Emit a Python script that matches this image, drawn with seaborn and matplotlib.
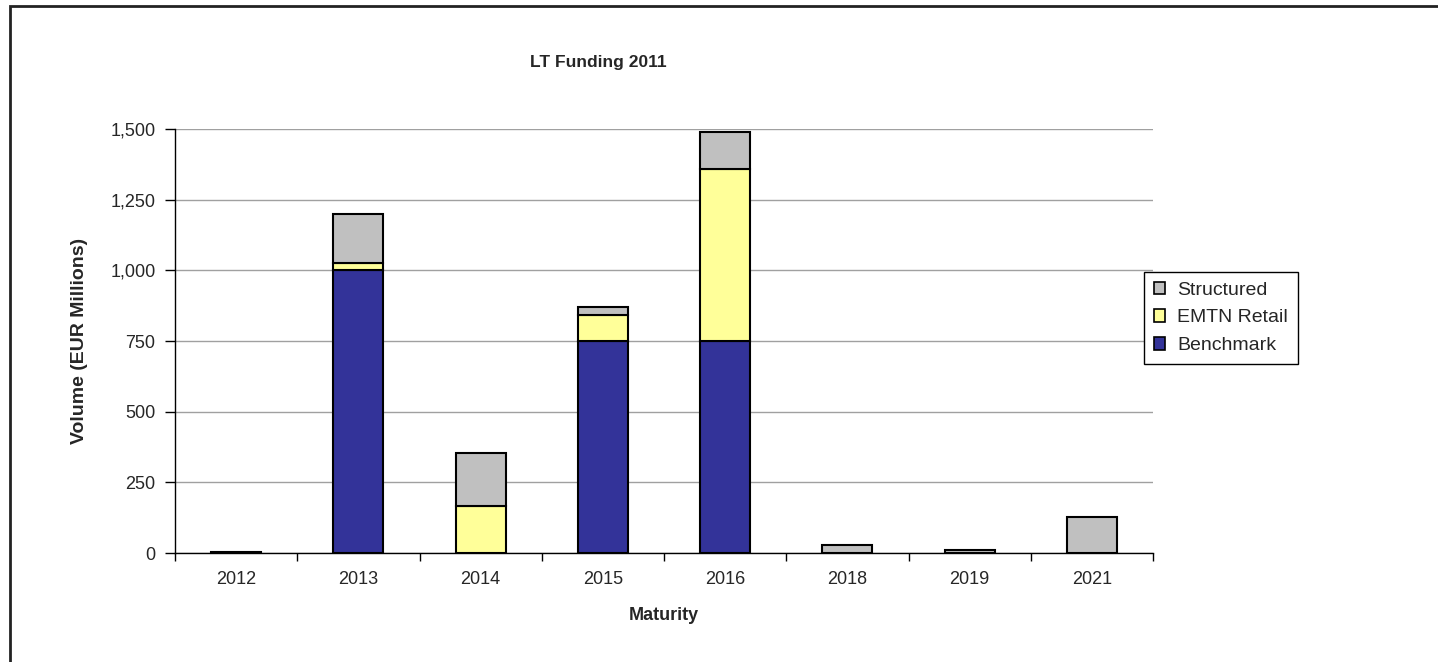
import pandas as pd
import matplotlib.pyplot as plt
import seaborn as sns
from matplotlib.patches import Patch, Rectangle
from matplotlib.ticker import FuncFormatter, FixedLocator

maturity = ['2012', '2013', '2014', '2015', '2016', '2018', '2019', '2021']
benchmark = [0, 1000, 0, 750, 750, 0, 0, 0]
emtn_retail = [0, 25, 165, 92, 608, 0, 0, 0]
structured = [4, 175, 190, 29, 133, 28, 10, 126]

colors = {'Benchmark': '#333399', 'EMTN Retail': '#FFFF99', 'Structured': '#C0C0C0'}

df = pd.DataFrame({'Maturity': maturity, 'Benchmark': benchmark,
                   'EMTN Retail': emtn_retail, 'Structured': structured})
df['base2'] = df['Benchmark'] + df['EMTN Retail']

sns.set_style('white')
plt.rcParams['font.family'] = ['Liberation Sans', 'DejaVu Sans']

fig = plt.figure(figsize=(14.38, 6.62), dpi=100)
ax = fig.add_axes([175 / 1438, 1 - 553 / 662, (1153 - 175) / 1438, (553 - 129) / 662])

bar_kw = dict(width=0.41, edgecolor='black', linewidth=1.5, ax=ax, zorder=3)
sns.barplot(data=df, x='Maturity', y='Benchmark', color=colors['Benchmark'],
            saturation=1, **bar_kw)
sns.barplot(data=df, x='Maturity', y='EMTN Retail', bottom=df['Benchmark'],
            color=colors['EMTN Retail'], saturation=1, **bar_kw)
sns.barplot(data=df, x='Maturity', y='Structured', bottom=df['base2'],
            color=colors['Structured'], saturation=1, **bar_kw)

ax.set_xlim(-0.5, len(maturity) - 0.5)
ax.set_ylim(0, 1500)
ax.set_yticks(range(0, 1501, 250))
ax.yaxis.set_major_formatter(FuncFormatter(lambda v, p: f'{int(v):,}'))
ax.grid(axis='y', color='#A0A0A0', linewidth=1, zorder=0)
ax.grid(axis='x', visible=False)
ax.set_axisbelow(True)

# x ticks between categories
ax.xaxis.set_major_locator(FixedLocator([i - 0.5 for i in range(len(maturity) + 1)]))
ax.xaxis.set_major_formatter(FuncFormatter(lambda v, p: ''))
ax.xaxis.set_minor_locator(FixedLocator(list(range(len(maturity)))))
ax.set_xticklabels(maturity, minor=True)
ax.tick_params(axis='x', which='major', length=6, width=1, color='black', direction='out', bottom=True)
ax.tick_params(axis='x', which='minor', length=0, labelsize=13, pad=13)
ax.tick_params(axis='y', length=7, width=1, color='black', direction='out', left=True, labelsize=13, pad=7)

for s in ['top', 'right']:
    ax.spines[s].set_visible(False)
for s in ['left', 'bottom']:
    ax.spines[s].set_color('black')
    ax.spines[s].set_linewidth(1)

ax.set_xlabel('Maturity', fontsize=13, fontweight='bold', labelpad=14)
ax.set_ylabel('Volume (EUR Millions)', fontsize=14, fontweight='bold', labelpad=16)
fig.text(598 / 1438, 1 - 62 / 662, 'LT Funding 2011', ha='center', va='center',
         fontsize=12.5, fontweight='bold')

handles = [Patch(facecolor=colors[k], edgecolor='black', linewidth=1.2, label=k)
           for k in ['Structured', 'EMTN Retail', 'Benchmark']]
leg = fig.legend(handles=handles, loc='upper left',
                 bbox_to_anchor=(1144 / 1438, 1 - 272 / 662), fontsize=14,
                 handlelength=0.6, handleheight=0.6, handletextpad=0.6,
                 labelspacing=0.55, borderpad=0.5, borderaxespad=0,
                 fancybox=False, framealpha=1)
leg.get_frame().set_edgecolor('black')
leg.get_frame().set_linewidth(1)

# outer chart border
fig.patches.append(Rectangle((10 / 1438, -0.1), 1.2, 1 - 6 / 662 + 0.1,
                             transform=fig.transFigure, fill=False,
                             edgecolor='#222222', linewidth=2))

fig.savefig('out.png', dpi=100)
